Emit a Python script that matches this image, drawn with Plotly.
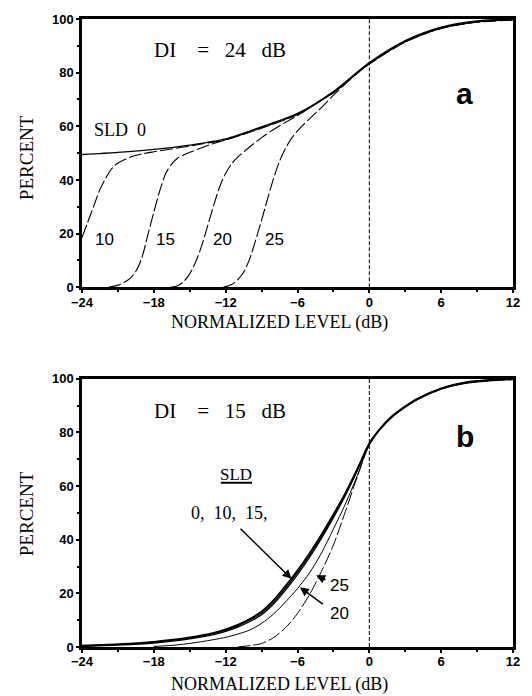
import plotly.graph_objects as go

# ---------------- Panel a (DI = 24 dB) ----------------
a_x0 = [-24, -21, -18, -15, -12, -9, -6, -3, 0, 3, 6, 9, 12]
a_y0 = [49.5, 50.3, 51.4, 53.0, 55.3, 59.8, 64.8, 73.0, 83.8, 92.0, 97.0, 99.3, 100.0]

a_x10 = [-24, -23.5, -23, -22.5, -22, -21.5, -21, -20, -19, -18, -16, -14, -12, -9, -6, -3, 0, 3, 6, 9, 12]
a_y10 = [18.5, 24.5, 30.5, 36.5, 40.8, 44.3, 46.3, 48.5, 49.7, 50.5, 51.9, 53.4, 55.0, 59.5, 64.5, 72.7, 83.5, 91.7, 96.7, 99.0, 99.8]

a_x15 = [-21.8, -21, -20.5, -20, -19.5, -19, -18.5, -18, -17.5, -17, -16.5, -16, -15, -14, -13, -12, -9, -6, -3, 0, 3, 6, 9, 12]
a_y15 = [0.0, 0.8, 1.8, 3.2, 6.0, 11.0, 19.5, 28.0, 36.0, 42.5, 46.0, 48.2, 50.3, 52.0, 53.6, 54.9, 59.3, 64.4, 72.6, 83.4, 91.6, 96.6, 98.9, 99.7]

a_x20 = [-16.6, -16, -15.5, -15, -14.5, -14, -13.5, -13, -12.5, -12, -11.5, -11, -10, -9, -8, -7, -6, -5, -4, -3, 0, 3, 6, 9, 12]
a_y20 = [0.0, 0.6, 2.2, 5.0, 9.5, 15.5, 23.0, 30.5, 37.5, 42.5, 46.0, 48.5, 52.3, 55.8, 58.8, 61.5, 64.0, 66.8, 69.8, 72.5, 83.3, 91.5, 96.5, 98.9, 99.7]

a_x25 = [-12.2, -11.5, -11, -10.5, -10, -9.5, -9, -8.5, -8, -7.5, -7, -6.5, -6, -5, -4, -3, -2, -1, 0, 3, 6, 9, 12]
a_y25 = [0.0, 1.0, 2.8, 5.6, 10.5, 17.5, 25.0, 33.0, 40.5, 47.0, 51.8, 55.5, 58.3, 62.8, 67.0, 71.6, 75.8, 79.8, 83.2, 91.4, 96.5, 98.8, 99.6]

# ---------------- Panel b (DI = 15 dB) ----------------
b_x = [-24, -21, -18, -15, -13, -12, -11, -10, -9, -8, -7, -6, -5, -4, -3, -2, -1, 0, 1, 2, 3, 4, 6, 8, 10, 12]
b_y0 = [0.6, 1.1, 2.0, 3.6, 5.3, 6.6, 8.3, 10.5, 13.3, 17.5, 22.8, 28.6, 35.0, 42.0, 49.5, 57.5, 66.5, 76.0, 82.0, 86.5, 89.8, 92.6, 96.5, 98.7, 99.6, 100.0]
b_y10 = [0.4, 0.9, 1.8, 3.3, 5.0, 6.2, 7.9, 10.0, 12.7, 16.8, 22.0, 27.8, 34.2, 41.2, 48.8, 57.0, 66.1, 75.8, 81.8, 86.3, 89.6, 92.4, 96.3, 98.5, 99.4, 99.8]
b_y15 = [0.2, 0.7, 1.5, 3.0, 4.6, 5.8, 7.4, 9.4, 12.0, 16.0, 21.2, 27.0, 33.4, 40.5, 48.2, 56.5, 65.8, 75.6, 81.6, 86.1, 89.4, 92.2, 96.1, 98.3, 99.2, 99.7]

b_x20 = [-18, -16, -14, -12, -11, -10, -9, -8, -7, -6, -5, -4, -3, -2, -1, 0, 1, 2, 3, 4, 6, 8, 10, 12]
b_y20 = [0.2, 0.8, 2.0, 3.6, 4.8, 6.3, 8.8, 12.3, 16.8, 21.8, 27.6, 35.0, 44.0, 53.3, 64.0, 75.5, 81.8, 86.3, 89.6, 92.4, 96.3, 98.5, 99.4, 99.8]

b_x25 = [-11, -10, -9, -8, -7, -6, -5, -4, -3, -2, -1, 0, 1, 2, 3, 4, 6, 8, 10, 12]
b_y25 = [0.0, 0.5, 1.3, 3.5, 7.2, 12.5, 19.5, 28.2, 38.0, 50.5, 63.5, 75.3, 81.6, 86.1, 89.4, 92.2, 96.2, 98.4, 99.3, 99.7]

x_ticks = [-24, -18, -12, -6, 0, 6, 12]
y_ticks = [0, 20, 40, 60, 80, 100]

SERIF = "Liberation Serif"
SANS = "Liberation Sans"
DASH = "13px,3px"

fig = go.Figure()

def add(x, y, xa, ya, dash="solid", width=1.2):
    fig.add_trace(go.Scatter(x=x, y=y, xaxis=xa, yaxis=ya, mode="lines",
                             line=dict(color="black", width=width, dash=dash, shape="spline", smoothing=0.8),
                             showlegend=False, hoverinfo="skip"))

# panel a
add(a_x0, a_y0, "x", "y", "solid", 1.3)
add(a_x10, a_y10, "x", "y", DASH, 1.1)
add(a_x15, a_y15, "x", "y", DASH, 1.1)
add(a_x20, a_y20, "x", "y", DASH, 1.1)
add(a_x25, a_y25, "x", "y", DASH, 1.1)

# panel b
add(b_x, b_y0, "x2", "y2", "solid", 1.5)
add(b_x, b_y10, "x2", "y2", "solid", 1.3)
add(b_x, b_y15, "x2", "y2", "solid", 1.3)
add(b_x20, b_y20, "x2", "y2", "solid", 1.0)
add(b_x25, b_y25, "x2", "y2", DASH, 1.0)

axis_common = dict(
    showline=True, mirror=True, linewidth=2.5, linecolor="black",
    showgrid=False, zeroline=False,
    ticks="outside", ticklen=3, tickwidth=1.5, tickcolor="black",
    tickfont=dict(family=SANS, size=13, color="black", weight="bold"),
)

top_dom = [0.5728, 1.0]
bot_dom = [0.0, 0.4272]

xminor = dict(dtick=3, tick0=-24, ticks="outside", ticklen=2, tickcolor="black")
yminor = dict(dtick=10, tick0=0, ticks="outside", ticklen=2, tickcolor="black")

fig.update_layout(
    width=532, height=696,
    margin=dict(l=82, r=12, t=15, b=49),
    paper_bgcolor="white", plot_bgcolor="white",
    xaxis=dict(axis_common, domain=[0, 1], anchor="y", range=[-24, 12], tickvals=x_ticks,
               ticklabelstandoff=-2, minor=xminor),
    yaxis=dict(axis_common, domain=top_dom, anchor="x", range=[0, 100], tickvals=y_ticks, minor=yminor),
    xaxis2=dict(axis_common, domain=[0, 1], anchor="y2", range=[-24, 12], tickvals=x_ticks,
                ticklabelstandoff=-2, minor=xminor),
    yaxis2=dict(axis_common, domain=bot_dom, anchor="x2", range=[0, 100], tickvals=y_ticks, minor=yminor),
)

# vertical dashed lines at 0 dB
for xr, yr in (("x", "y"), ("x2", "y2")):
    fig.add_shape(type="line", xref=xr, yref=yr, x0=0, x1=0, y0=0, y1=100,
                  line=dict(color="black", width=1, dash="4px,2px"))

sp = "\u00a0"
ann = []
# axis titles
for yc in (0.5160, -0.0600):
    ann.append(dict(xref="paper", yref="paper", x=0.459, y=yc, yanchor="middle", text="NORMALIZED LEVEL (dB)",
                    showarrow=False, font=dict(family=SERIF, size=18, color="black")))
for yc in (0.78, 0.213):
    ann.append(dict(xref="paper", yref="paper", x=-0.13, y=yc, xanchor="center", yanchor="middle",
                    text="PERCENT", textangle=-90,
                    showarrow=False, font=dict(family=SERIF, size=19, color="black")))

# panel a texts
ann.append(dict(xref="x", yref="y", x=-12.45, y=88.5, text=f"DI{sp*4}={sp*3}24{sp*3}dB", showarrow=False,
                font=dict(family=SERIF, size=21, color="black")))
ann.append(dict(xref="x", yref="y", x=7.95, y=72.3, text="<b>a</b>", showarrow=False,
                font=dict(family=SANS, size=30, color="black")))
ann.append(dict(xref="x", yref="y", x=-23.2, y=58.8, xanchor="left", text=f"SLD{sp*2}0", showarrow=False,
                font=dict(family=SERIF, size=18, color="black")))
for lab, xl in (("10", -23.1), ("15", -18.0), ("20", -13.2), ("25", -8.9)):
    ann.append(dict(xref="x", yref="y", x=xl, y=17.8, xanchor="left", text=lab, showarrow=False,
                    font=dict(family=SANS, size=17, color="black")))

# panel b texts
ann.append(dict(xref="x2", yref="y2", x=-12.45, y=87.8, text=f"DI{sp*4}={sp*3}15{sp*3}dB", showarrow=False,
                font=dict(family=SERIF, size=21, color="black")))
ann.append(dict(xref="x2", yref="y2", x=7.95, y=78.3, text="<b>b</b>", showarrow=False,
                font=dict(family=SANS, size=30, color="black")))
ann.append(dict(xref="x2", yref="y2", x=-11.1, y=64.4, text="SLD", showarrow=False,
                font=dict(family=SERIF, size=17, color="black")))
ann.append(dict(xref="x2", yref="y2", x=-15.1, y=50, xanchor="left", text=f"0,{sp*2}10,{sp*2}15,", showarrow=False,
                font=dict(family=SERIF, size=18, color="black")))
ann.append(dict(xref="x2", yref="y2", x=-3.48, y=23, xanchor="left", text="25", showarrow=False,
                font=dict(family=SANS, size=17, color="black")))
ann.append(dict(xref="x2", yref="y2", x=-3.48, y=12.6, xanchor="left", text="20", showarrow=False,
                font=dict(family=SANS, size=17, color="black")))
# arrows
for (tx, ty, hx, hy) in ((-10.88, 44.6, -6.5, 25.4), (-3.54, 24.8, -4.44, 26.7), (-3.76, 15.6, -5.8, 22.3)):
    ann.append(dict(xref="x2", yref="y2", axref="x2", ayref="y2", x=hx, y=hy, ax=tx, ay=ty, text="",
                    showarrow=True, arrowhead=2, arrowsize=1.2, arrowwidth=1.5, arrowcolor="black",
                    standoff=0, startstandoff=0))

fig.update_layout(annotations=ann)

# underline for SLD label
fig.add_shape(type="line", xref="x2", yref="y2", x0=-12.4, x1=-9.8, y0=61.2, y1=61.2,
              line=dict(color="black", width=2))

fig.write_html("out.html", config={"displayModeBar": False},
               post_script="document.body.style.margin='0px';document.body.style.overflow='hidden';")
